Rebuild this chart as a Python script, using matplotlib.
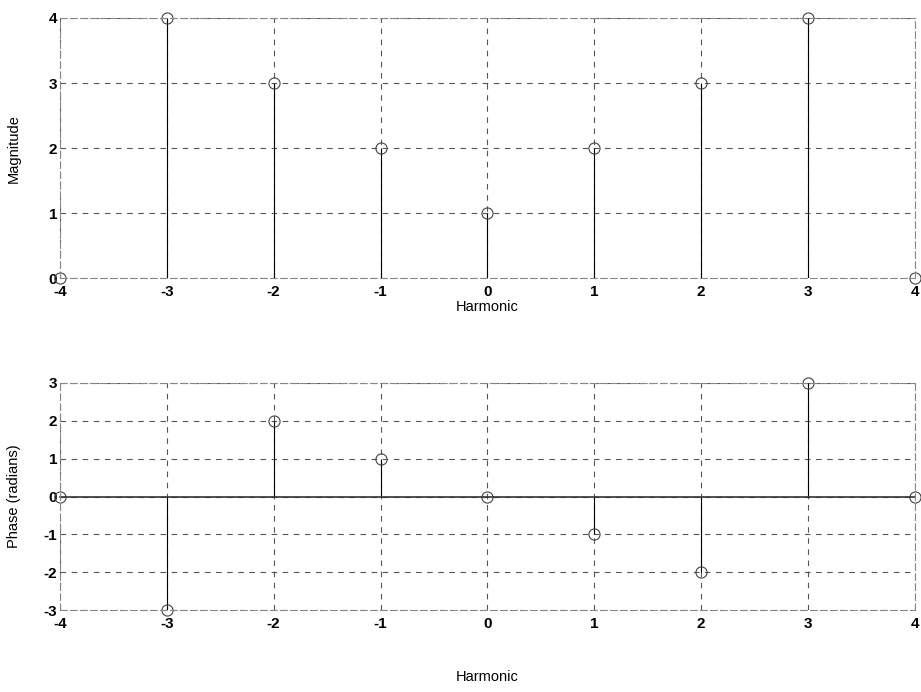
import numpy as np
import matplotlib
matplotlib.use("Agg")
import matplotlib.pyplot as plt

plt.rcParams['font.family'] = ['Liberation Sans', 'DejaVu Sans']
plt.rcParams['axes.unicode_minus'] = False

harmonics = [-4, -3, -2, -1, 0, 1, 2, 3, 4]
magnitude = [0, 4, 3, 2, 1, 2, 3, 4, 0]
phase = [0, -3, 2, 1, 0, -1, -2, 3, 0]

fig = plt.figure(figsize=(9.21, 6.92), dpi=100)
ax1 = fig.add_axes([0.065, 0.598, 0.9285, 0.376])
ax2 = fig.add_axes([0.065, 0.118, 0.9285, 0.329])

def stem(ax, x, y, ylim, ylabel, baseline, xlab_y):
    ml, sl, bl = ax.stem(x, y, basefmt='k-' if baseline else ' ')
    plt.setp(sl, color='black', linewidth=0.8)
    plt.setp(ml, marker='o', markersize=8, markerfacecolor='none',
             markeredgecolor='#444444', markeredgewidth=0.8)
    if baseline:
        plt.setp(bl, color='#333333', linewidth=1.2)
        bl.set_xdata([-4, 4])
    ax.set_xlim(-4, 4)
    ax.set_ylim(*ylim)
    ax.set_xticks(harmonics)
    ax.set_yticks(range(ylim[0], ylim[1] + 1))
    ax.grid(True, linestyle=(0, (5, 5)), color='#555555', linewidth=0.8)
    ax.set_axisbelow(True)
    for s in ax.spines.values():
        s.set_color('#888888')
        s.set_linewidth(0.8)
        s.set_linestyle((0, (6, 3)))
    ax.tick_params(length=0, labelsize=11)
    ax.tick_params(axis='x', pad=5)
    ax.tick_params(axis='y', pad=2)
    for lab in ax.get_xticklabels() + ax.get_yticklabels():
        lab.set_fontweight('bold')
    ax.set_xlabel('Harmonic', fontsize=10.5)
    ax.set_ylabel(ylabel, fontsize=10.5)
    ax.xaxis.set_label_coords(0.5, xlab_y)
    ax.yaxis.set_label_coords(-0.0456, 0.5)
    for line in ax.lines:
        line.set_clip_on(False)

stem(ax1, harmonics, magnitude, (0, 4), 'Magnitude', False, -0.085)
stem(ax2, harmonics, phase, (-3, 3), 'Phase (radians)', True, -0.264)

fig.savefig('out.png', dpi=100)
